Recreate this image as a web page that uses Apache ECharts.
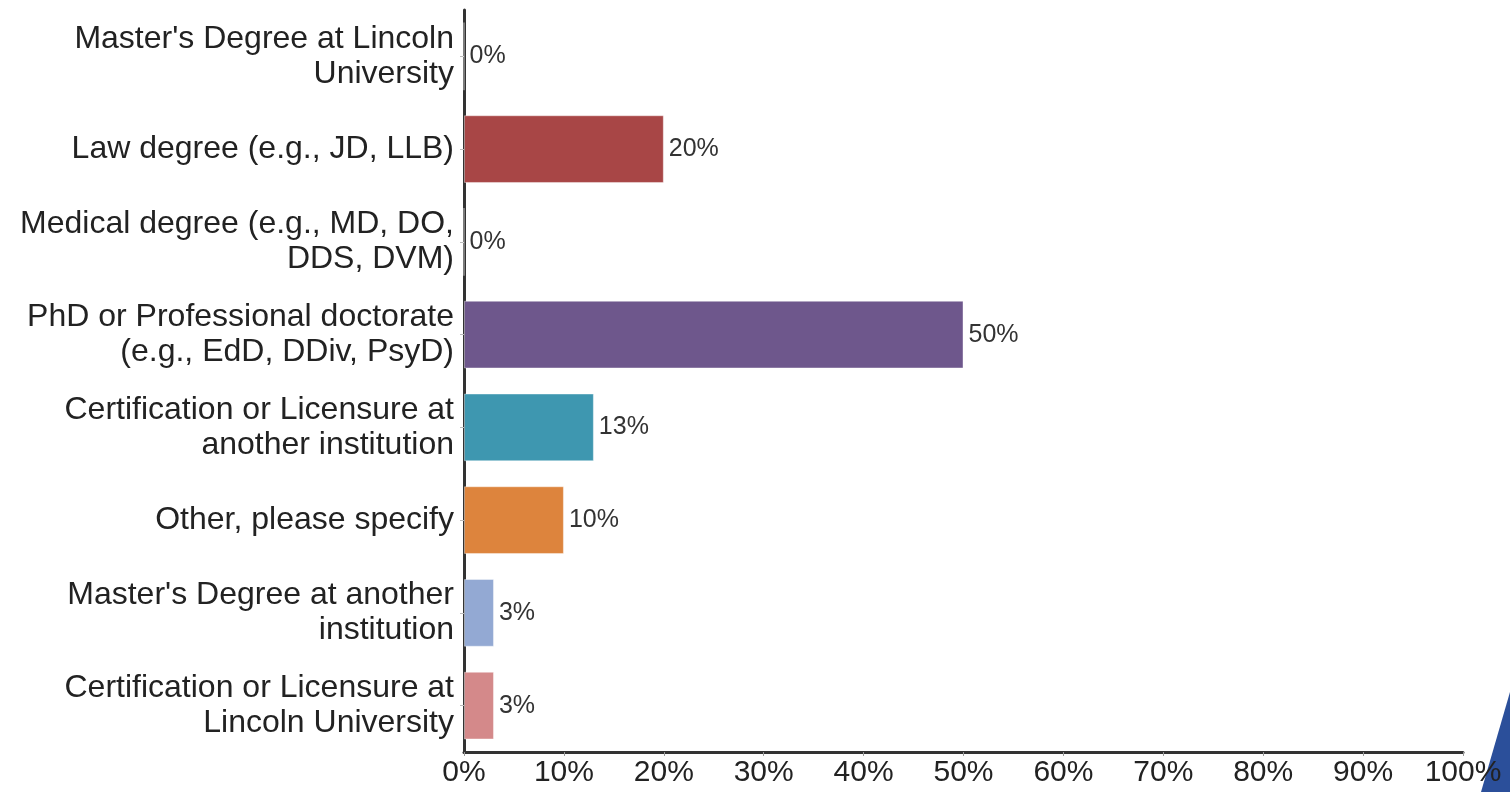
<!DOCTYPE html>
<html>
<head>
<meta charset="utf-8">
<script src="https://cdn.jsdelivr.net/npm/echarts@6/dist/echarts.min.js"></script>
<style>
html,body{margin:0;padding:0;background:#fff;}
#c{width:1510px;height:792px;}
</style>
</head>
<body>
<div id="c"></div>
<script>
const categories = [
  "Master's Degree at Lincoln\nUniversity",
  "Law degree (e.g., JD, LLB)",
  "Medical degree (e.g., MD, DO,\nDDS, DVM)",
  "PhD or Professional doctorate\n(e.g., EdD, DDiv, PsyD)",
  "Certification or Licensure at\nanother institution",
  "Other, please specify",
  "Master's Degree at another\ninstitution",
  "Certification or Licensure at\nLincoln University"
];
const values = [0, 20, 0, 50, 13, 10, 3, 3];
const barColors = ['#A84646', '#A84646', '#6E578C', '#6E578C', '#3E97B0', '#DD843D', '#93A9D3', '#D4898A'];

const FONT = "'Liberation Sans', Arial, Helvetica, sans-serif";
const chart = echarts.init(document.getElementById('c'));
chart.setOption({
  animation: false,
  backgroundColor: '#fff',
  textStyle: { fontFamily: FONT },
  grid: { left: 464, right: 47, top: 10, bottom: 40, containLabel: false },
  xAxis: {
    type: 'value', min: 0, max: 100, interval: 10,
    axisLine: { show: true, lineStyle: { color: '#333', width: 3 } },
    axisTick: { show: true, length: 4, lineStyle: { color: '#999' } },
    splitLine: { show: false },
    axisLabel: { formatter: v => v + '%', fontSize: 30, color: '#222', margin: 6, fontFamily: FONT }
  },
  yAxis: {
    type: 'category', data: categories, inverse: true,
    axisLine: { show: true, lineStyle: { color: '#333', width: 3 } },
    axisTick: { show: true, length: 4, alignWithLabel: true, lineStyle: { color: '#bbb' } },
    axisLabel: { fontSize: 32, color: '#222', lineHeight: 35, margin: 10, align: 'right', fontFamily: FONT }
  },
  series: [{
    type: 'bar',
    data: values.map((v, i) => ({ value: v, itemStyle: { color: barColors[i] } })),
    barCategoryGap: '27%',
    itemStyle: { borderColor: 'rgba(255,255,255,0.4)', borderWidth: 1 },
    label: { show: true, position: 'right', distance: 5, formatter: p => p.value + '%',
             fontSize: 25, color: '#333', fontFamily: FONT }
  }],
  graphic: [{
    type: 'polygon', silent: true,
    shape: { points: [[1510, 692], [1481, 792], [1510, 792]] },
    style: { fill: '#2B4F9A' }
  }]
});
</script>
</body>
</html>
